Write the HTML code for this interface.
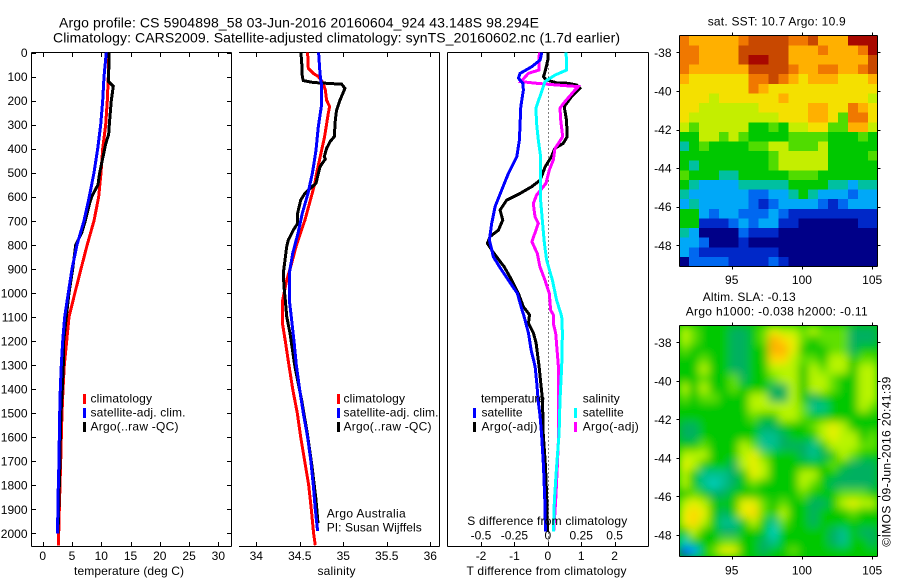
<!DOCTYPE html>
<html lang="en">
<head>
<meta charset="utf-8">
<title>Argo profile CS 5904898_58</title>
<style>
html,body{margin:0;padding:0;background:#fff;}
svg{display:block;}
text{font-family:"Liberation Sans",sans-serif;font-size:12px;fill:#000;}
.title{font-size:14px;}
</style>
</head>
<body>
<svg id="chart" xmlns="http://www.w3.org/2000/svg" width="900" height="580" viewBox="0 0 900 580">
<defs>
<clipPath id="clip-sst"><rect x="679.5" y="36" width="198" height="230"/></clipPath>
<clipPath id="clip-sla"><rect x="679.5" y="326" width="198" height="231"/></clipPath>
<filter id="soft" x="-5%" y="-5%" width="110%" height="110%"><feGaussianBlur stdDeviation="4.5"/></filter>
</defs>
<rect width="900" height="580" fill="#fff"/>

<text class="title" x="59" y="27.5" textLength="480" lengthAdjust="spacing">Argo profile: CS 5904898_58 03-Jun-2016 20160604_924 43.148S 98.294E</text>
<text class="title" x="53" y="42.5" textLength="567" lengthAdjust="spacing">Climatology: CARS2009. Satellite-adjusted climatology: synTS_20160602.nc (1.7d earlier)</text>

<g id="cells-sst" clip-path="url(#clip-sst)"></g>
<g clip-path="url(#clip-sla)"><rect x="670" y="316" width="216" height="250" fill="#00c800"/><g id="cells-sla" filter="url(#soft)"></g></g>

<g id="panel-temp"></g>
<g id="panel-sal"></g>
<g id="panel-diff"></g>
<g id="axes-maps"></g>

<text x="74" y="575" textLength="110" lengthAdjust="spacing">temperature (deg C)</text>
<text x="317.5" y="575" textLength="38" lengthAdjust="spacing">salinity</text>
<text x="466.5" y="575" textLength="160" lengthAdjust="spacing">T difference from climatology</text>
<text x="467.3" y="525" textLength="160" lengthAdjust="spacing">S difference from climatology</text>

<g>
<rect x="83" y="394" width="3" height="10" fill="#f00"/>
<rect x="83" y="408" width="3" height="10" fill="#00f"/>
<rect x="83" y="422" width="3" height="10" fill="#000"/>
<text x="90.5" y="402.5" textLength="61.5" lengthAdjust="spacing">climatology</text>
<text x="90.5" y="416.5" textLength="95" lengthAdjust="spacing">satellite-adj. clim.</text>
<text x="90.5" y="430.5" textLength="88" lengthAdjust="spacing">Argo(..raw -QC)</text>
</g>
<g>
<rect x="337" y="394" width="3" height="10" fill="#f00"/>
<rect x="337" y="408" width="3" height="10" fill="#00f"/>
<rect x="337" y="422" width="3" height="10" fill="#000"/>
<text x="343.5" y="402.5" textLength="61.5" lengthAdjust="spacing">climatology</text>
<text x="343.5" y="416.5" textLength="95" lengthAdjust="spacing">satellite-adj. clim.</text>
<text x="343.5" y="430.5" textLength="88" lengthAdjust="spacing">Argo(..raw -QC)</text>
<text x="326.7" y="517.5" textLength="79" lengthAdjust="spacing">Argo Australia</text>
<text x="326.7" y="531.5" textLength="95" lengthAdjust="spacing">PI: Susan Wijffels</text>
</g>
<g>
<text x="481" y="402.5" textLength="64" lengthAdjust="spacing">temperature</text>
<text x="582.7" y="402.5" textLength="37" lengthAdjust="spacing">salinity</text>
<rect x="473" y="408" width="3" height="10" fill="#00f"/>
<rect x="473" y="422" width="3" height="10" fill="#000"/>
<rect x="574" y="408" width="3" height="10" fill="#0ff"/>
<rect x="574" y="422" width="3" height="10" fill="#f0f"/>
<text x="481.5" y="416.5" textLength="41" lengthAdjust="spacing">satellite</text>
<text x="481.5" y="430.5" textLength="56" lengthAdjust="spacing">Argo(-adj)</text>
<text x="582.7" y="416.5" textLength="41" lengthAdjust="spacing">satellite</text>
<text x="582.7" y="430.5" textLength="56" lengthAdjust="spacing">Argo(-adj)</text>
</g>

<text x="707.7" y="25.5" textLength="138" lengthAdjust="spacing">sat. SST: 10.7 Argo: 10.9</text>
<text x="702.7" y="301" textLength="93" lengthAdjust="spacing">Altim. SLA: -0.13</text>
<text x="685.7" y="315.5" textLength="182" lengthAdjust="spacing">Argo h1000: -0.038 h2000: -0.11</text>
<text transform="translate(890.5 546.7) rotate(-90)" textLength="170" lengthAdjust="spacing">©IMOS 09-Jun-2016 20:41:39</text>
</svg>

<script>
// ---- depth axis ----
const depthTicks = [0,100,200,300,400,500,600,700,800,900,1000,1100,1200,1300,1400,1500,1600,1700,1800,1900,2000];

// ---- temperature panel ----
const tempTicks = [0,5,10,15,20,25,30];
const tempClimDepth = [0,100,200,300,400,500,600,700,800,900,1000,1100,1200,1300,1400,1500,1600,1700,1800,1900,2000,2050];
const tempClim = [11.3,11.2,11.04,10.76,10.24,9.96,9.56,8.76,7.6,6.54,5.5,4.49,4.1,3.69,3.47,3.3,3.18,3.07,2.95,2.84,2.73,2.67];
const tempSatDepth = [0,100,200,300,400,500,600,700,800,900,1000,1100,1200,1300,1400,1500,1600,1700,1800,1900,2000];
const tempSat = [10.87,10.47,10.24,9.9,9.39,8.76,7.96,7.05,5.86,5.0,4.37,3.75,3.41,3.18,3.0,2.9,2.84,2.78,2.67,2.61,2.5];
const tempArgoDepth = [0,100,120,140,200,300,340,380,500,550,600,620,700,750,800,900,1000,1100,1200,1300,1400,1500,1600,1700,1800,1900,2000];
const tempArgo = [11.3,11.27,11.2,12.06,11.72,11.37,11.27,10.76,9.73,9.44,8.37,8.1,7.28,6.66,5.63,5.12,4.49,4.03,3.59,3.52,3.35,3.13,3.0,2.95,2.84,2.73,2.62];

// ---- salinity panel ----
const salTicks = [34,34.5,35,35.5,36];
const salClimDepth = [0,66,87,100,128,156,198,225,253,350,420,503,544,600,697,808,891,947,1029,1133,1200,1300,1400,1500,1600,1700,1800,1900,2000,2050];
const salClim = [34.59,34.598,34.655,34.713,34.77,34.793,34.808,34.843,34.828,34.785,34.743,34.693,34.674,34.632,34.559,34.456,34.395,34.349,34.303,34.303,34.333,34.375,34.418,34.471,34.51,34.556,34.602,34.632,34.659,34.678];
const salSatDepth = [0,45,87,128,225,309,406,461,503,586,669,752,836,919,1029,1100,1200,1300,1400,1500,1600,1700,1800,1900,1990];
const salSat = [34.716,34.724,34.732,34.747,34.747,34.713,34.686,34.663,34.644,34.594,34.529,34.479,34.418,34.379,34.379,34.402,34.433,34.46,34.498,34.54,34.59,34.628,34.655,34.678,34.705];
const salArgoDepth = [0,31,101,117,125,132,149,198,239,281,350,371,399,433,443,475,544,586,614,669,711,739,780,808,863,919,974,1029,1098,1168,1306,1445,1584,1722,1861,1958];
const salArgo = [34.51,34.521,34.529,34.54,34.655,34.981,35.019,34.962,34.923,34.908,34.897,34.847,34.808,34.782,34.793,34.732,34.686,34.559,34.51,34.475,34.475,34.425,34.368,34.349,34.33,34.31,34.318,34.333,34.349,34.387,34.444,34.521,34.586,34.64,34.686,34.709];

// ---- difference panel ----
const tDiffTicks = [-2,-1,0,1,2];
const sDiffTicks = [-0.5,-0.25,0,0.25,0.5];
const tDiffSatDepth = [0,31,59,87,107,128,156,225,364,433,503,572,641,711,780,850,891,947,1002,1058,1098,1168,1237,1306,1376,1445,1514,1584,1653,1722,1861,1993];
const tDiffSat = [-0.18,-0.23,-0.48,-0.83,-0.88,-0.75,-0.73,-0.81,-0.85,-0.93,-1.18,-1.38,-1.58,-1.68,-1.75,-1.63,-1.45,-1.18,-0.91,-0.80,-0.71,-0.58,-0.50,-0.38,-0.33,-0.29,-0.23,-0.19,-0.16,-0.13,-0.09,-0.07];
const tDiffArgoDepth = [0,31,73,101,114,126,128,135,149,184,225,281,350,378,399,433,475,531,558,586,614,655,697,739,766,794,836,891,947,1002,1058,1091,1126,1168,1209,1306,1376,1445,1584,1722,1861,1993];
const tDiffArgo = [0.01,0,-0.07,-0.13,-0.05,0.26,0.61,0.86,0.96,0.71,0.49,0.56,0.58,0.46,0.21,0.11,-0.08,-0.23,-0.48,-0.83,-1.23,-1.43,-1.35,-1.48,-1.73,-1.81,-1.61,-1.31,-1.08,-0.88,-0.73,-0.55,-0.58,-0.43,-0.35,-0.26,-0.21,-0.16,-0.14,-0.07,-0.03,-0.01];
const sDiffSatDepth = [0,45,73,94,121,170,232,295,364,433,503,614,711,794,863,947,1030,1098,1168,1306,1445,1584,1722,1861,1993];
const sDiffSat = [0.136,0.141,0.141,0.054,-0.021,-0.051,-0.089,-0.084,-0.071,-0.054,-0.054,-0.054,-0.039,-0.026,-0.009,0.034,0.066,0.104,0.109,0.104,0.091,0.084,0.066,0.049,0.041];
const sDiffArgoDepth = [0,73,87,121,128,135,142,156,212,232,281,350,378,399,447,489,544,593,628,683,711,787,836,891,947,1002,1071,1091,1126,1168,1306,1445,1584,1722,1861,1993];
const sDiffArgo = [-0.064,-0.066,-0.146,-0.201,-0.084,0.066,0.228,0.203,0.116,0.091,0.096,0.111,0.079,0.054,0.041,0.011,-0.014,-0.084,-0.109,-0.096,-0.071,-0.119,-0.079,-0.059,-0.021,0.011,0.021,0.041,0.041,0.059,0.079,0.081,0.081,0.071,0.059,0.044];

// ---- maps ----
const latTicks = [-38,-40,-42,-44,-46,-48];
const lonTicks = [95,100,105];
const sstLevels = [
[10,9,9,9,9,9,10,11,11,11,11,10,10,11,9,9,9,12,12,12],
[10,10,9,9,9,9,11,11,11,11,11,9,9,9,10,9,9,9,10,12],
[10,10,9,9,9,9,11,12,12,11,11,9,9,9,9,9,9,9,9,11],
[10,9,9,9,9,9,9,11,11,11,11,10,9,9,10,10,9,9,10,11],
[9,8,8,8,8,8,8,10,10,11,10,9,8,9,9,9,8,8,8,9],
[8,8,8,8,8,8,8,10,9,8,8,8,8,8,8,8,8,8,8,8],
[8,8,8,7,8,8,8,8,8,8,9,8,8,8,8,8,8,8,8,7],
[8,8,7,7,7,7,7,7,8,8,8,8,8,9,9,8,8,10,9,8],
[8,7,7,7,7,7,7,7,7,7,8,8,8,9,9,8,6,10,10,8],
[7,6,7,7,7,7,7,5,5,6,5,7,7,8,8,6,6,9,9,7],
[5,5,7,7,6,7,6,5,5,5,5,6,6,6,6,5,5,5,6,5],
[4,5,6,5,5,5,5,6,6,7,7,6,6,6,7,5,5,5,5,5],
[5,5,5,5,5,5,5,5,5,6,7,7,7,7,7,5,5,5,5,6],
[5,4,5,5,5,5,5,5,5,6,7,7,7,7,7,5,5,5,5,5],
[6,5,5,5,4,4,5,5,5,5,5,6,6,6,5,5,5,5,5,5],
[5,4,3,3,3,3,4,4,4,4,4,5,5,5,5,4,4,3,4,4],
[4,3,3,3,3,3,3,2,2,3,3,4,5,4,3,3,3,2,3,3],
[3,4,3,3,3,3,3,2,1,2,3,3,3,3,2,1,2,3,3,3],
[5,5,3,2,3,3,2,2,2,3,2,1,1,1,1,1,1,1,1,1],
[5,5,1,1,1,2,3,2,3,3,1,1,0,0,0,0,0,0,1,1],
[4,3,0,0,0,0,2,1,1,1,0,0,0,0,0,0,0,0,0,0],
[3,3,2,0,0,0,1,0,0,0,0,0,0,0,0,0,0,0,0,0],
[3,2,1,1,1,1,1,1,1,1,0,0,0,0,0,0,0,0,0,0],
[0,2,2,2,2,1,1,1,1,2,1,0,0,0,0,0,0,0,0,0]
];
const slaLevels = [
[7,6,5,5,5,4,4,5,6,8,7,7,6,7,6,6,6,4,4,4],
[7,6,5,5,5,4,4,5,6,10,9,8,6,5,6,6,6,4,4,4],
[6,5,5,5,5,4,4,5,5,10,10,8,5,5,5,6,6,4,5,5],
[5,5,6,5,5,4,4,5,5,9,9,7,6,6,5,7,7,5,6,6],
[5,5,7,5,5,4,4,5,5,7,7,7,5,7,6,7,7,5,7,7],
[5,5,6,5,5,6,4,5,5,6,7,7,5,7,7,6,5,5,7,7],
[7,5,7,5,5,6,5,5,5,4,4,7,5,7,7,6,5,5,7,7],
[6,5,6,6,5,5,5,7,7,4,4,7,5,4,5,5,5,5,7,7],
[5,5,5,5,5,5,5,7,7,7,7,7,6,3,3,5,5,5,7,6],
[5,5,5,5,5,5,5,6,5,5,7,7,6,5,5,5,5,5,5,5],
[4,4,5,5,5,5,5,5,4,4,5,5,5,6,7,8,7,5,5,5],
[4,4,5,5,5,5,5,5,3,3,4,5,5,5,7,8,7,7,5,6],
[5,5,6,5,5,5,7,6,3,3,4,4,4,3,5,7,7,7,6,6],
[7,7,7,5,5,5,7,8,6,5,5,5,4,3,4,5,7,6,5,5],
[8,7,5,5,5,4,7,8,7,5,5,5,5,5,5,6,5,4,4,4],
[7,5,3,3,3,4,5,8,7,5,5,5,7,7,5,5,4,4,4,4],
[7,5,3,2,3,4,5,6,5,5,5,5,7,6,5,4,4,4,4,4],
[5,6,5,4,4,5,5,5,5,5,5,5,6,5,5,5,6,6,6,5],
[7,8,7,5,5,5,8,8,6,5,6,5,5,4,4,5,7,8,7,7],
[8,9,8,5,4,5,8,9,6,5,7,5,5,4,5,5,5,6,5,5],
[8,9,7,5,3,3,5,7,5,3,6,5,5,4,5,5,5,5,5,5],
[5,7,5,5,4,4,5,5,5,2,5,5,5,5,5,4,3,5,4,4],
[2,5,5,5,6,6,5,5,4,3,5,5,5,5,5,4,3,5,5,4],
[0,1,5,6,8,8,5,5,4,5,5,6,5,5,5,5,5,5,5,5]
];
const sstPalette = ['#000088','#0028c8','#0068f0','#00a8f8','#00c0a0','#00c800','#50dc00','#c4ee00','#f4e000','#ffb000','#f07800','#c84800','#a80800'];
const slaPalette = ['#0050f0','#00a0ff','#00d0c0','#00c090','#00b060','#00c800','#60e000','#b8f400','#e8f000','#ffd800','#ffb000'];

// ---- axis functions ----
const yDepth = d => 52.5 + 0.2404 * d;
const xTemp = v => 42.7 + 5.855 * v;
const xSal = v => 256.3 + 87 * (v - 34);
const xTDiff = v => 547.83 + 33.4 * v;
const xSDiff = v => 547.83 + 133.6 * v;
const lonX = v => 731.7 + 14.05 * (v - 95);
const latSstY = v => 52.3 - 19.3 * (v + 38);
const latSlaY = v => 342.3 - 19.27 * (v + 38);

// ---- drawing helpers ----
const NS = 'http://www.w3.org/2000/svg';
function node(parent, tag, attrs, txt) {
  const el = document.createElementNS(NS, tag);
  for (const k in attrs) el.setAttribute(k, attrs[k]);
  if (txt !== undefined) el.textContent = txt;
  parent.appendChild(el);
  return el;
}
function seg(parent, x1, y1, x2, y2) {
  return node(parent, 'line', {x1, y1, x2, y2, stroke: '#000', 'stroke-width': 1, 'shape-rendering': 'crispEdges'});
}
function profile(parent, xFn, depths, values, color) {
  const pts = values.map((v, i) => xFn(v).toFixed(1) + ',' + yDepth(depths[i]).toFixed(1)).join(' ');
  return node(parent, 'polyline', {points: pts, fill: 'none', stroke: color, 'stroke-width': 3, 'shape-rendering': 'crispEdges', 'stroke-linejoin': 'miter'});
}
function xTicks(parent, ticks, xFn, labels) {
  ticks.forEach((t, i) => {
    const x = Math.round(xFn(t)) + 0.5;
    const a = seg(parent, x, 52.5, x, 57);
    
    
    const b = seg(parent, x, 546.5, x, 542);
    
    
    const lab = node(parent, 'text', {x: xFn(t), y: 560, 'text-anchor': 'middle'}, labels ? labels[i] : String(t));
    
    
  });
}

// ---- temperature panel ----
const pT = document.getElementById('panel-temp');
[[31.5,52.5,231.5,52.5],[31.5,546.5,231.5,546.5],[31.5,52.5,31.5,546.5],[231.5,52.5,231.5,546.5]].forEach(s => {
  const f = seg(pT, s[0], s[1], s[2], s[3]);
  
  
});
depthTicks.forEach(d => {
  const y = Math.round(yDepth(d)) + 0.5;
  const a = seg(pT, 31.5, y, 36, y);
  
  
  const b = seg(pT, 231.5, y, 227, y);
  
  
  const lab = node(pT, 'text', {x: 27.5, y: yDepth(d) + 4.5, 'text-anchor': 'end'}, String(d));
  
  
});
xTicks(pT, tempTicks, xTemp);
const tRed = profile(pT, xTemp, tempClimDepth, tempClim, '#f00');


const tBlack = profile(pT, xTemp, tempArgoDepth, tempArgo, '#000');


const tBlue = profile(pT, xTemp, tempSatDepth, tempSat, '#00f');



// ---- salinity panel ----
const pS = document.getElementById('panel-sal');
[[239,52.5,439.5,52.5],[239,546.5,439.5,546.5],[439.5,52.5,439.5,546.5]].forEach(s => {
  const f = seg(pS, s[0], s[1], s[2], s[3]);
  
  
});
xTicks(pS, salTicks, xSal);
const sRed = profile(pS, xSal, salClimDepth, salClim, '#f00');


const sBlack = profile(pS, xSal, salArgoDepth, salArgo, '#000');


const sBlue = profile(pS, xSal, salSatDepth, salSat, '#00f');



// ---- difference panel ----
const pD = document.getElementById('panel-diff');
[[447.5,52.5,648.5,52.5],[447.5,546.5,648.5,546.5],[447.5,52.5,447.5,546.5],[648.5,52.5,648.5,546.5]].forEach(s => {
  const f = seg(pD, s[0], s[1], s[2], s[3]);
  
  
});
xTicks(pD, tDiffTicks, xTDiff);
sDiffTicks.forEach(t => {
  const lab = node(pD, 'text', {x: xSDiff(t), y: 539.5, 'text-anchor': 'middle'}, String(t));
  
  
});
const zeroLine = node(pD, 'line', {x1: Math.round(xTDiff(0)) + 0.5, x2: Math.round(xTDiff(0)) + 0.5, y1: yDepth(0), y2: 546, stroke: '#000', 'stroke-width': 1, 'stroke-dasharray': '1 3', 'shape-rendering': 'crispEdges'});


const dBlack = profile(pD, xTDiff, tDiffArgoDepth, tDiffArgo, '#000');


const dMagenta = profile(pD, xSDiff, sDiffArgoDepth, sDiffArgo, '#f0f');


const dBlue = profile(pD, xTDiff, tDiffSatDepth, tDiffSat, '#00f');


const dCyan = profile(pD, xSDiff, sDiffSatDepth, sDiffSat, '#0ff');



// ---- map cells ----
const lonMin = 91.25, lonMax = 105.4;
const latMax = -37.14, latMin = -49.1;
const gSst = document.getElementById('cells-sst');
sstLevels.forEach((row, r) => {
  row.forEach((lev, c) => {
    const lon0 = lonMin + (lonMax - lonMin) * c / row.length;
    const lon1 = lonMin + (lonMax - lonMin) * (c + 1) / row.length;
    const lat0 = latMax + (latMin - latMax) * r / sstLevels.length;
    const lat1 = latMax + (latMin - latMax) * (r + 1) / sstLevels.length;
    const cell = node(gSst, 'rect', {x: lonX(lon0), y: latSstY(lat0), width: lonX(lon1) - lonX(lon0) + 0.5, height: latSstY(lat1) - latSstY(lat0) + 0.5, fill: sstPalette[lev], 'shape-rendering': 'crispEdges'});
    
    
  });
});
const gSla = document.getElementById('cells-sla');
slaLevels.forEach((row, r) => {
  row.forEach((lev, c) => {
    const lon0 = lonMin + (lonMax - lonMin) * c / row.length;
    const lon1 = lonMin + (lonMax - lonMin) * (c + 1) / row.length;
    const lat0 = latMax + (latMin - latMax) * r / slaLevels.length;
    const lat1 = latMax + (latMin - latMax) * (r + 1) / slaLevels.length;
    const cell = node(gSla, 'rect', {x: lonX(lon0), y: latSlaY(lat0), width: lonX(lon1) - lonX(lon0) + 0.5, height: latSlaY(lat1) - latSlaY(lat0) + 0.5, fill: slaPalette[lev]});
    
    
  });
});

// ---- map frames, ticks and labels ----
const gM = document.getElementById('axes-maps');
function mapAxes(top, bottom, latFn, labelBase) {
  const left = 679.5, right = 877.5;
  [[left,top,right,top],[left,bottom,right,bottom],[left,top,left,bottom],[right,top,right,bottom]].forEach(s => {
    const f = seg(gM, s[0], s[1], s[2], s[3]);
    
    
  });
  latTicks.forEach(t => {
    const y = Math.round(latFn(t)) + 0.5;
    const a = seg(gM, left - 3, y, left, y);
    
    
    const b = seg(gM, right, y, right + 3, y);
    
    
    const lab = node(gM, 'text', {x: 671.5, y: latFn(t) + 4.5, 'text-anchor': 'end'}, String(t));
    
    
  });
  lonTicks.forEach(t => {
    const x = Math.round(lonX(t)) + 0.5;
    const a = seg(gM, x, top - 3, x, top);
    
    
    const b = seg(gM, x, bottom, x, bottom + 3);
    
    
    const lab = node(gM, 'text', {x: lonX(t), y: labelBase, 'text-anchor': 'middle'}, String(t));
    
    
  });
}
mapAxes(35.5, 266.5, latSstY, 284);
mapAxes(325.5, 556.5, latSlaY, 574.5);
</script>
</body>
</html>
